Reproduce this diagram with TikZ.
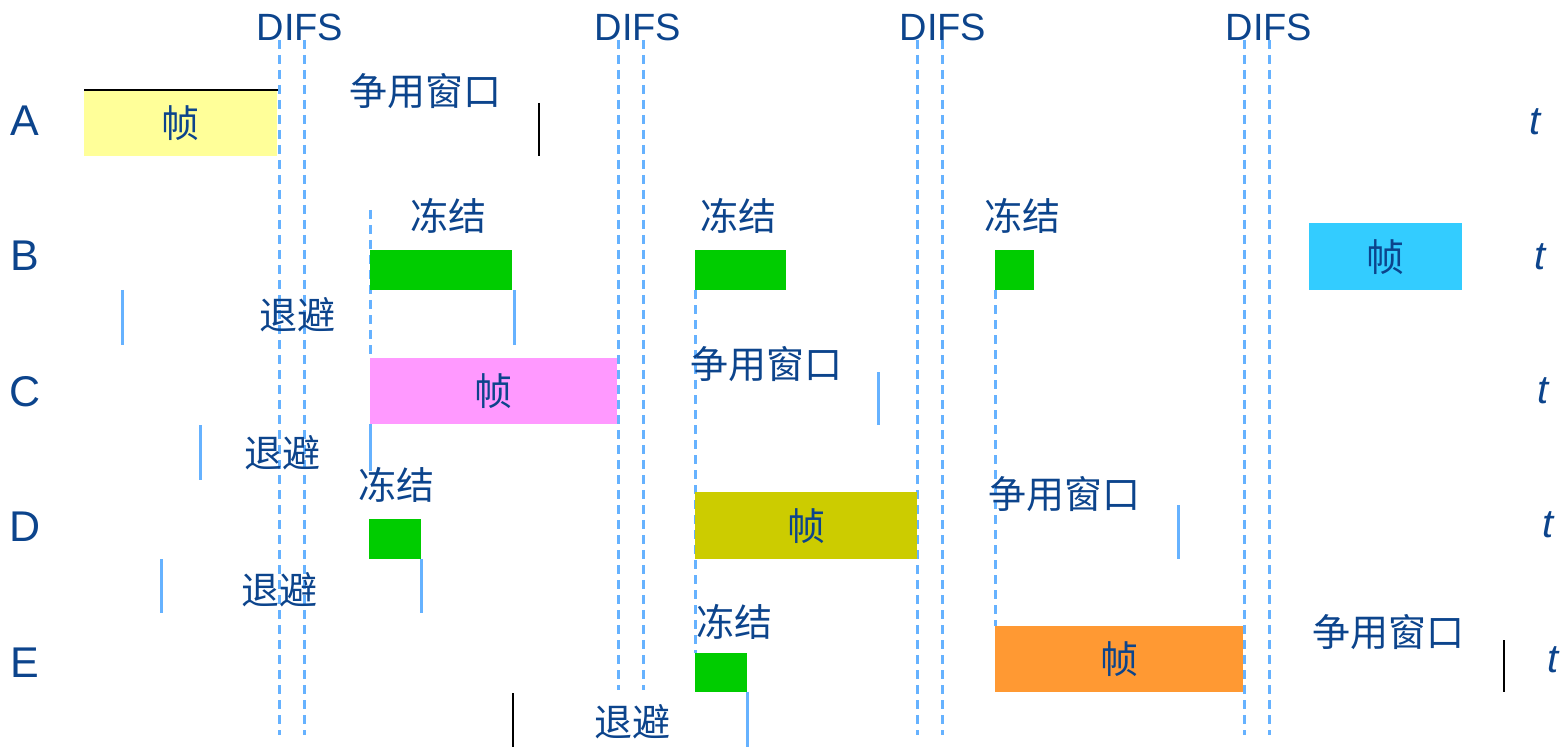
\documentclass[tikz,border=0pt]{standalone}
\usepackage{fontspec}
\setmainfont{Liberation Sans}
\newfontfamily\cjk{Noto Sans CJK SC}
\usetikzlibrary{positioning}

\definecolor{txtblue}{RGB}{12,68,140}
\definecolor{lineblue}{RGB}{102,178,255}
\definecolor{frzgreen}{RGB}{0,204,0}
\definecolor{frmyellow}{RGB}{255,255,153}
\definecolor{frmcyan}{RGB}{51,204,255}
\definecolor{frmpink}{RGB}{255,153,255}
\definecolor{frmolive}{RGB}{204,204,0}
\definecolor{frmorange}{RGB}{255,153,51}

\tikzset{
  rowlbl/.style={text=txtblue, font=\fontsize{43}{45}\selectfont, inner sep=0},
  tlbl/.style={text=txtblue, font=\fontsize{40}{42}\selectfont\itshape, inner sep=0},
  difslbl/.style={text=txtblue, font=\fontsize{38}{40}\selectfont, inner sep=0},
  cnlbl/.style={text=txtblue, font=\cjk\fontsize{38}{40}\selectfont, inner sep=0},
  frmbox/.style={anchor=north west, inner sep=0, text=txtblue, font=\cjk\fontsize{38}{40}\selectfont},
  frzbox/.style={anchor=north west, inner sep=0, fill=frzgreen},
  difsline/.style={lineblue, line width=3, dash pattern=on 9pt off 6pt},
  bomark/.style={lineblue, line width=3},
  cwmark/.style={black, line width=2.5},
}

\begin{document}
\begin{tikzpicture}[x=1pt, y=-1pt]
\useasboundingbox (0,0) rectangle (1567,754);

% DIFS intervals
\foreach \x/\y/\l [count=\i] in {279/735/300, 618/690/638, 917/735/943, 1244/735/1269}{
  \draw[difsline] (\x,40) -- (\x,\y);
  \draw[difsline] (\x+25,40) -- (\x+25,\y);
  \node[difslbl] (difs\i) at (\l,27) {DIFS};
}
\draw[difsline] (370,210) -- (370,358);
\draw[difsline] (695,290) -- (695,653);
\draw[difsline] (995,290) -- (995,626);

% stations
\node[rowlbl] (rA) at (25,121) {A};
\node[rowlbl] (rB) at (25,256) {B};
\node[rowlbl] (rC) at (25,392) {C};
\node[rowlbl] (rD) at (25,527) {D};
\node[rowlbl] (rE) at (25,663) {E};

\node[tlbl] (tA) at (1535,122) {t};
\node[tlbl] (tB) at (1540,257) {t};
\node[tlbl] (tC) at (1543,391) {t};
\node[tlbl] (tD) at (1548,525) {t};
\node[tlbl] (tE) at (1553,660) {t};

% frames
\node[frmbox, fill=frmyellow, minimum width=193, minimum height=66] (fA) at (84,90) {帧};
\node[frmbox, fill=frmcyan, minimum width=153, minimum height=67] (fB) at (1309,223) {帧};
\node[frmbox, fill=frmpink, minimum width=247, minimum height=66] (fC) at (370,358) {帧};
\node[frmbox, fill=frmolive, minimum width=222, minimum height=67] (fD) at (695,492) {帧};
\node[frmbox, fill=frmorange, minimum width=248, minimum height=66] (fE) at (995,626) {帧};
\draw[cwmark] (fA.north west) -- ([xshift=1]fA.north east);

% frozen backoff
\node[frzbox, minimum width=142, minimum height=40] (zB1) at (370,250) {};
\node[frzbox, minimum width=91, minimum height=40] (zB2) at (695,250) {};
\node[frzbox, minimum width=39, minimum height=40] (zB3) at (995,250) {};
\node[frzbox, minimum width=52, minimum height=40] (zD) at (369,519) {};
\node[frzbox, minimum width=52, minimum height=39] (zE) at (695,653) {};

\node[cnlbl] (dB1) at (448,216) {冻结};
\node[cnlbl] (dB2) at (738,216) {冻结};
\node[cnlbl] (dB3) at (1022,216) {冻结};
\node[cnlbl] (dD) at (396,485) {冻结};
\node[cnlbl] (dE) at (734,622) {冻结};

% backoff
\node[cnlbl] (bB) at (297,315) {退避};
\node[cnlbl] (bC) at (282,453) {退避};
\node[cnlbl] (bD) at (279,590) {退避};
\node[cnlbl] (bE) at (632,722) {退避};
\draw[bomark] (122,290) -- (122,345);
\draw[bomark] ([xshift=2]zB1.south east) -- ++(0,55);
\draw[bomark] (200,425) -- (200,480);
\draw[bomark] (fC.south west) -- ++(0,47);
\draw[bomark] (161,559) -- (161,613);
\draw[bomark] (zD.south east) -- ++(0,54);
\draw[bomark] (zE.south east) -- ++(0,55);
\draw[cwmark] (513,693) -- (513,747);

% contention window
\node[cnlbl] (cA) at (425,91) {争用窗口};
\node[cnlbl] (cC) at (766,364) {争用窗口};
\node[cnlbl] (cD) at (1064,494) {争用窗口};
\node[cnlbl] (cE) at (1388,632) {争用窗口};
\draw[cwmark] (539,103) -- (539,156);
\draw[bomark] (878,372) -- (878,425);
\draw[bomark] (1178,505) -- (1178,559);
\draw[cwmark] (1504,640) -- (1504,692);

\end{tikzpicture}
\end{document}
